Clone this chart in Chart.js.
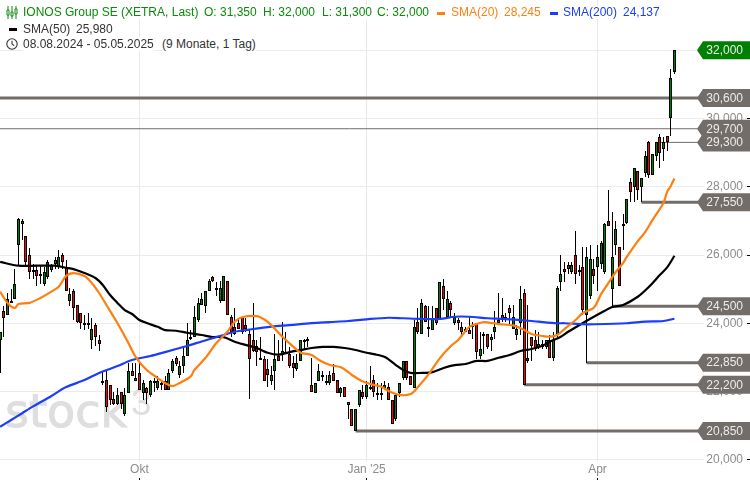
<!DOCTYPE html>
<html>
<head>
<meta charset="utf-8">
<title>IONOS Group SE</title>
<script src="https://cdn.jsdelivr.net/npm/chart.js@4/dist/chart.umd.min.js"></script>
<style>
  html, body { margin: 0; padding: 0; background: #fff; }
  #wrap { position: relative; width: 750px; height: 480px; overflow: hidden; font: 12px "Liberation Sans", Arial, sans-serif; }
  canvas { position: absolute; left: 0; top: 0; }
  .t { position: absolute; white-space: pre; line-height: 14px; height: 14px; background: #fff; }
  .dash { position: absolute; width: 8px; height: 3px; }
  svg { position: absolute; }
</style>
</head>
<body>
<div id="wrap">
  <canvas id="chart" width="750" height="480"></canvas>
  <svg style="left:6px;top:6px" width="12" height="13" viewBox="0 0 12 13" fill="none" stroke="#0a8a0a" stroke-width="1">
    <path d="M2 0v13M6 0v13M10 0v13"/><path d="M1 4h2v5H1zM5 6h2v4H5zM9 3h2v5H9z" fill="#fff"/>
  </svg>
  <span class="t" style="left:23px;top:5px;color:#0a8a0a">IONOS Group SE (XETRA, Last)</span>
  <span class="t" style="left:204px;top:5px;color:#0a8a0a">O: 31,350</span>
  <span class="t" style="left:263px;top:5px;color:#0a8a0a">H: 32,000</span>
  <span class="t" style="left:322px;top:5px;color:#0a8a0a">L: 31,300</span>
  <span class="t" style="left:377px;top:5px;color:#0a8a0a">C: 32,000</span>
  <div class="dash" style="left:437px;top:12px;background:#ff7f0e"></div>
  <span class="t" style="left:451px;top:5px;color:#ff7f0e">SMA(20)</span>
  <span class="t" style="left:504px;top:5px;color:#ff7f0e">28,245</span>
  <div class="dash" style="left:550px;top:12px;background:#1a3cff"></div>
  <span class="t" style="left:563px;top:5px;color:#1a3cff">SMA(200)</span>
  <span class="t" style="left:623px;top:5px;color:#1a3cff">24,137</span>
  <div class="dash" style="left:9px;top:28px;background:#000"></div>
  <span class="t" style="left:23px;top:22px;color:#333">SMA(50)</span>
  <span class="t" style="left:76px;top:22px;color:#333">25,980</span>
  <svg style="left:6px;top:38px" width="12" height="12" viewBox="0 0 12 12" fill="none" stroke="#333" stroke-width="1.1">
    <circle cx="6" cy="6" r="5.2"/><path d="M6 2.8V6l2.2 1.6"/>
  </svg>
  <span class="t" style="left:23px;top:37px;color:#333">08.08.2024 - 05.05.2025</span>
  <span class="t" style="left:162px;top:37px;color:#333">(9 Monate, 1 Tag)</span>
</div>
<script>
const opens = [
  23500,24350,24250,24650,24700,26300,26900,26550,26000,25500,
  25550,25450,25150,25350,25550,25750,25650,26000,25650,24650,
  24950,24550,24300,23950,24000,23500,23950,23500,22250,22350,
  22200,21800,21650,22000,21350,21950,22600,22300,22550,21950,
  22100,21900,22300,22100,22250,22300,22050,22600,23000,22500,
  22750,23050,23550,23600,24100,24550,24500,24950,25350,25050,
  24650,24650,25250,24200,23900,24000,24200,23950,23700,23500,
  23350,22950,22950,22650,22300,22600,23050,23100,23150,23100,
  22850,22650,22900,23450,23500,22200,21950,22300,22450,22300,
  22250,22550,22350,21950,22150,21700,21500,20850,21600,22000,
  21850,22150,22350,21950,21900,22100,22150,21750,21200,21950,
  22400,22900,22450,22100,24050,23700,24500,23900,23800,24450,
  24100,25100,24200,24600,24000,24100,23900,23850,23800,23900,
  24000,23050,23650,23700,23500,23750,24100,24250,24100,24450,
  23850,23650,24000,24900,22900,23600,23500,23300,23400,23300,
  23500,23000,23650,25200,25600,25700,25500,26000,25550,25650,
  24250,24800,25600,25650,25750,25500,27000,25000,26300,26250,
  26900,26950,28150,28000,28450,28000,28400,29300,28350,28900,
  29450,29100,29500,30000,31350
];
const highs = [
  23750,24500,24900,25000,25600,27100,27050,26550,26200,25750,
  25700,25700,25650,25850,25750,25950,26150,26050,25850,25050,
  25000,24550,24300,24250,24300,24150,24000,23650,22600,22600,
  22200,22000,22100,22000,22100,22850,22850,22850,22850,22350,
  22150,22350,22400,22450,22350,22450,22650,22950,23050,22900,
  23300,24000,23800,24500,24750,24900,24950,25300,25400,25200,
  25250,25400,25250,24250,24450,24150,24200,24150,23850,24600,
  23500,23600,23050,22950,22750,23700,23500,24050,23750,23300,
  23050,23100,23500,23550,23600,23000,22250,22800,22600,22500,
  22600,22800,22350,22150,22150,21700,21500,21500,22050,22200,
  22300,22750,22500,22250,22250,22300,22250,21750,21950,22250,
  22900,22900,22450,24100,24450,24700,24550,24500,24500,24450,
  25200,25300,24950,24650,24300,24150,24050,23900,24200,24050,
  24000,23750,23750,23700,23700,24350,24900,24750,24300,24550,
  24550,23950,25100,25000,24550,23600,23800,23750,23500,23500,
  23650,23750,25100,26000,25800,25800,25800,26700,25700,26250,
  26250,26300,25900,26300,26400,26950,27900,27250,27000,26250,
  27200,27650,28250,28550,28450,28250,29050,29350,28950,29300,
  29550,29450,29500,31450,32000
];
const lows = [
  22550,23600,24250,24600,24700,25700,26450,25700,25300,25300,
  25100,25150,25100,25300,25500,25600,25600,25600,24950,24500,
  24100,24000,23850,23800,23850,23250,23350,23200,22200,21400,
  21600,21600,21600,21500,21300,21950,22450,22300,22050,21750,
  21650,21850,22000,22050,22050,22050,22050,22550,22750,22400,
  22550,23050,23500,23600,24050,24550,24300,24950,25200,24800,
  24600,24650,24250,23600,23650,23850,23700,23750,21800,23150,
  22750,22950,22300,22150,22200,22050,22900,22900,23100,22700,
  22400,22600,22900,23250,23300,22000,21950,22300,22300,22200,
  22200,22300,21950,21850,21850,21200,21000,20850,21550,21800,
  21800,22050,21850,21750,21750,22050,21750,21050,21150,21850,
  22350,22350,22200,22100,23700,23700,24050,23600,23800,23950,
  24100,24400,24150,24200,23950,23800,23650,23750,23700,23550,
  22950,22950,23100,23250,23200,23550,23950,24050,24050,23950,
  23850,23500,23650,22200,22850,22900,23200,23250,23250,23250,
  23000,22900,23600,24950,25200,25450,25450,25150,25400,24250,
  22850,24700,25150,24950,25600,25450,26850,24500,26000,25100,
  26150,26900,27550,27550,27600,27550,28300,28250,28350,28750,
  28550,28750,29050,29500,31300
];
const closes = [
  23750,24150,24700,24650,25150,27050,27000,25800,25500,25550,
  25400,25450,25500,25800,25700,25850,25950,25800,24950,24850,
  24450,24050,24000,24000,24000,23850,23600,23400,22300,21550,
  21750,21650,21900,21650,21900,22600,22450,22400,22050,22250,
  21950,22300,22250,22300,22250,22050,22550,22900,22800,22750,
  23050,23500,23600,24200,24600,24700,24950,25250,25250,25000,
  25050,25400,24250,23750,23700,23850,23750,23850,22950,23200,
  23150,23000,22300,22500,22500,22950,22900,23200,23150,22750,
  22700,22850,23500,23500,23550,22000,22250,22600,22500,22300,
  22500,22300,21950,22100,21850,21600,21000,21500,22050,21850,
  22200,22150,22000,21900,21950,22200,21750,21050,21900,22250,
  22900,22400,22200,23900,23750,24600,24050,23900,24150,24000,
  25200,24700,24700,24400,24200,24000,23750,23750,23700,23950,
  23150,23250,23700,23300,23600,23900,24000,24100,24200,24300,
  24200,23850,24700,22200,23000,23350,23250,23400,23300,23500,
  23000,23500,25050,25450,25500,25600,25700,25450,25500,24400,
  25950,25900,25400,25950,26350,26900,26850,25950,26750,25100,
  26850,27650,27850,28550,27900,28250,28900,28350,28950,29300,
  29000,29300,29300,31200,32000
];

const sma50Idx = [0,5,10,15,18,20,23,26,28,30,32,34,36,38,40,43,45,48,51,55,58,61,64,67,70,73,76,79,82,85,88,91,94,97,100,102,105,108,110,112,115,118,121,124,127,130,133,136,139,142,145,148,150,153,155,159,162,165,167,170,174,177,180,182,184];
const sma50 = [25800,25690,25690,25690,25630,25590,25475,25330,25125,24830,24600,24390,24275,24100,24010,23900,23805,23785,23725,23660,23600,23600,23465,23370,23280,23140,23085,23160,23220,23280,23310,23310,23280,23220,23140,23100,23015,22780,22635,22550,22550,22575,22695,22780,22810,22900,22900,22995,23075,23190,23250,23345,23465,23610,23755,24010,24195,24370,24480,24540,24780,25065,25415,25640,25980];

const sma20Idx = [0,2,4,5,8,11,14,16,18,20,23,25,27,29,32,35,37,40,43,45,47,49,52,53,56,59,62,64,66,70,72,74,77,80,82,85,87,90,93,96,99,102,104,106,109,112,114,117,120,123,125,128,130,132,136,140,143,145,148,150,152,154,157,159,162,164,166,168,170,171,174,176,178,181,182,183,184];
const sma20 = [24930,24600,24450,24570,24600,24745,24930,25075,25390,25475,25390,25185,24890,24540,24010,23425,23015,22635,22400,22255,22165,22255,22450,22635,22985,23425,23755,24050,24180,24215,24120,23950,23610,23320,23140,23075,22930,22780,22715,22490,22295,22195,22145,22020,21905,21930,22135,22520,22985,23340,23515,23895,23980,24040,23980,23940,23805,23690,23630,23610,23660,23835,24100,24305,24460,24860,25185,25505,25770,25945,26410,26675,27025,27525,27850,28025,28245];

const sma200Idx = [0,3,6,9,14,18,23,27,32,36,41,45,51,55,60,64,68,74,79,85,90,95,100,106,110,115,120,124,128,133,137,142,147,152,154,159,162,171,176,181,184];
const sma200 = [20975,21170,21370,21570,21875,22135,22340,22550,22750,22930,23045,23160,23340,23470,23630,23755,23820,23905,23950,24010,24040,24070,24120,24165,24150,24130,24130,24195,24195,24150,24130,24100,24050,24005,24005,23975,23975,24005,24050,24070,24137];

const levelValues = [20850,22200,22850,24500,27550,29300,29700,30600];
const levelStartIdx = [97,143,160,167,175,179,-1,-1];
const thinLevels = [29700,29300];
const lastClose = 32000;

const yTickValues = [20000,22000,24000,26000,28000,30000,32000];
const xTickIdx = [38,100,163];
const xTickLabels = ['Okt',"Jan '25",'Apr'];

const GREY = '#736d69';
const fmt = v => v.toLocaleString('en-US');
const idx = opens.map((_, i) => i);

function lineSet(xs, ys, color, order) {
  return {
    type: 'line',
    data: xs.map((x, i) => ({ x: x, y: ys[i] })),
    borderColor: color,
    borderWidth: 2.2,
    pointRadius: 0,
    tension: 0.3,
    borderJoinStyle: 'round',
    order: order
  };
}

const levelSets = levelValues.map((v, i) => ({
  type: 'line',
  data: [{ x: levelStartIdx[i], y: v }, { x: 191, y: v }],
  borderColor: GREY,
  borderWidth: thinLevels.includes(v) ? 1 : 3,
  pointRadius: 0,
  order: 6
}));

const wickSet = {
  label: 'wick',
  data: idx.map(i => ({ x: i, y: [lows[i], highs[i]] })),
  backgroundColor: '#000',
  borderWidth: 0,
  inflateAmount: 0,
  grouped: false,
  order: 5
};
const bodySet = {
  label: 'body',
  data: idx.map(i => ({ x: i, y: [opens[i], closes[i]] })),
  backgroundColor: idx.map(i => closes[i] >= opens[i] ? '#008000' : '#ff0000'),
  borderColor: '#000',
  borderWidth: 1,
  borderSkipped: false,
  grouped: false,
  order: 4
};

// keeps candles on whole pixels so they stay crisp
const snapBars = {
  id: 'snapBars',
  beforeDatasetsDraw(chart) {
    chart.data.datasets.forEach((ds, n) => {
      if (ds.label !== 'wick' && ds.label !== 'body') return;
      const isBody = ds.label === 'body';
      chart.getDatasetMeta(n).data.forEach(el => {
        el.x = Math.floor(el.x) + 0.5;
        el.width = isBody ? 3 : 1;
        const top = Math.round(el.y);
        let base = Math.round(el.base);
        if (isBody && Math.abs(base - top) < 2) base = top + 2;
        el.y = top;
        el.base = base;
      });
    });
  }
};

const watermark = {
  id: 'watermark',
  beforeDatasetsDraw(chart) {
    const c = chart.ctx;
    c.save();
    c.fillStyle = '#dedede';
    c.strokeStyle = '#dedede';
    c.textBaseline = 'alphabetic';
    c.textAlign = 'left';
    c.font = '46px "DejaVu Sans"';
    c.lineWidth = 1;
    c.fillText('stock', 5, 427);
    c.strokeText('stock', 5, 427);
    c.font = '37px "Liberation Sans"';
    c.fillText('3', 131, 415);
    c.restore();
  }
};

function tagShape(c, y, color) {
  c.beginPath();
  c.moveTo(697, y);
  c.lineTo(703, y - 9);
  c.lineTo(750, y - 9);
  c.lineTo(750, y + 9);
  c.lineTo(703, y + 9);
  c.closePath();
  c.fillStyle = color;
  c.fill();
}

const priceTags = {
  id: 'priceTags',
  afterDatasetsDraw(chart) {
    const c = chart.ctx;
    const y = chart.scales.y;
    c.save();
    levelValues.forEach(v => tagShape(c, y.getPixelForValue(v), GREY));
    tagShape(c, y.getPixelForValue(lastClose), '#008000');
    c.font = '12px "Liberation Sans"';
    c.textAlign = 'right';
    c.textBaseline = 'middle';
    c.fillStyle = '#ececec';
    levelValues.concat(lastClose).forEach(v => c.fillText(fmt(v), 743, y.getPixelForValue(v) + 0.5));
    c.restore();
  }
};

function flatAxis(s, size) {
  if (s.axis === 'x') s.height = size; else s.width = size;
  s.paddingTop = s.paddingBottom = s.paddingLeft = s.paddingRight = 0;
}

new Chart(document.getElementById('chart').getContext('2d'), {
  type: 'bar',
  data: {
    datasets: [
      lineSet(sma20Idx, sma20, '#ff7f0e', 1),
      lineSet(sma200Idx, sma200, '#1a3cff', 2),
      lineSet(sma50Idx, sma50, '#000', 3),
      bodySet,
      wickSet,
      ...levelSets
    ]
  },
  plugins: [snapBars, watermark, priceTags],
  options: {
    responsive: false,
    animation: false,
    devicePixelRatio: 1,
    layout: { padding: 0 },
    plugins: { legend: { display: false }, tooltip: { enabled: false } },
    scales: {
      x: {
        type: 'linear',
        min: -0.04,
        max: 203.8,
        offset: false,
        afterFit(s) { flatAxis(s, 3); },
        afterBuildTicks(s) { s.ticks = xTickIdx.map(v => ({ value: v })); },
        border: { display: false },
        grid: { offset: false, color: '#e8e8e8', tickColor: '#000', tickLength: 3 },
        ticks: {
          mirror: true,
          autoSkip: false,
          maxRotation: 0,
          padding: 0,
          color: '#8c8c8c',
          font: { family: 'Liberation Sans', size: 12 },
          showLabelBackdrop: true,
          backdropColor: '#fff',
          backdropPadding: 1,
          callback: v => xTickLabels[xTickIdx.indexOf(v)]
        }
      },
      y: {
        position: 'right',
        min: 19502,
        max: 33470,
        afterFit(s) { flatAxis(s, 3); },
        afterBuildTicks(s) { s.ticks = yTickValues.map(v => ({ value: v })); },
        border: { display: false },
        grid: { color: '#ebebeb', tickColor: '#000', tickLength: 3 },
        ticks: {
          mirror: true,
          padding: -4,
          color: '#8c8c8c',
          font: { family: 'Liberation Sans', size: 12 },
          showLabelBackdrop: true,
          backdropColor: '#fff',
          backdropPadding: 2,
          callback: v => fmt(v)
        }
      }
    }
  }
});
</script>
</body>
</html>
